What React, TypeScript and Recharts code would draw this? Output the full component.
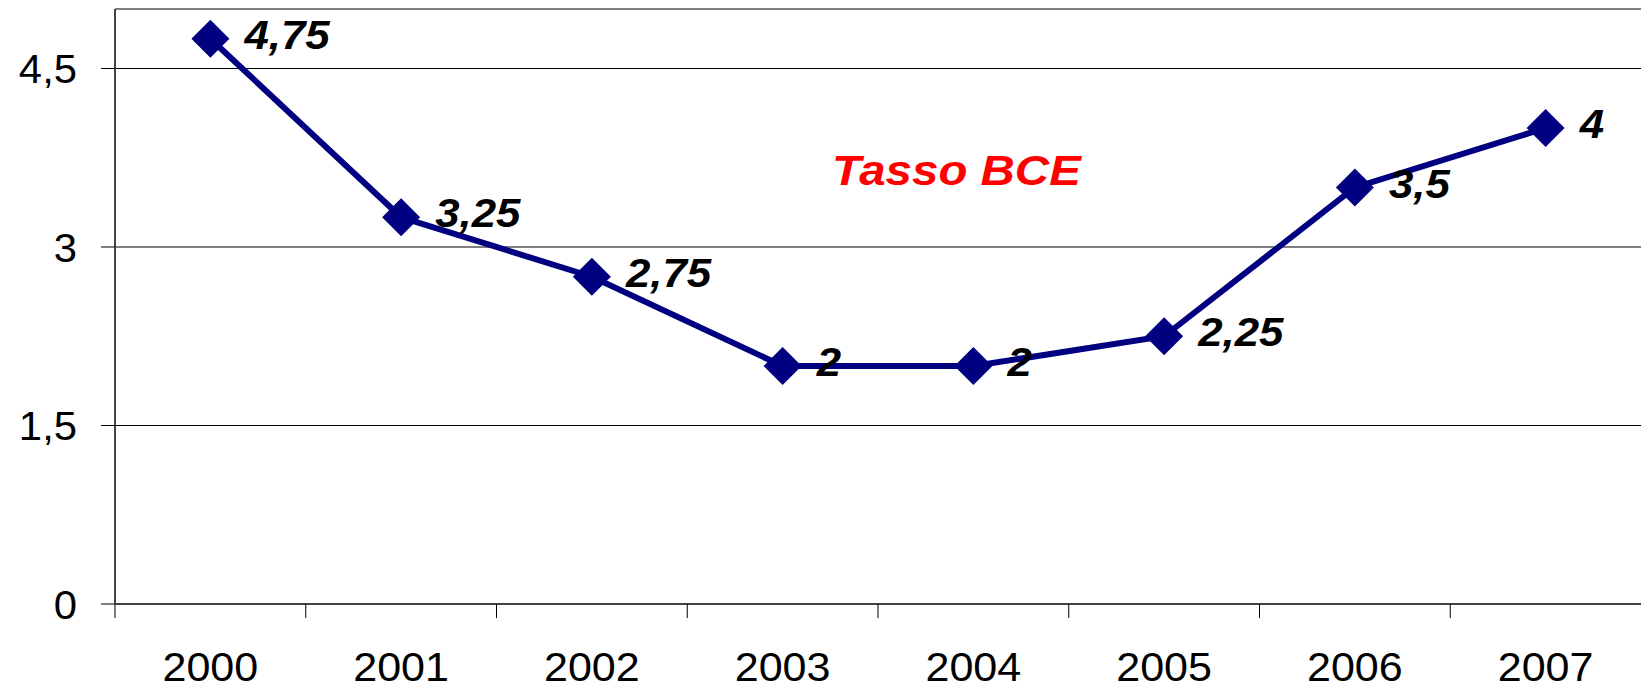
import React from "react";
import {
  LineChart,
  Line,
  XAxis,
  YAxis,
  CartesianGrid,
  ReferenceLine,
  LabelList,
} from "recharts";

const YEARS = ["2000", "2001", "2002", "2003", "2004", "2005", "2006", "2007"];
const RATES = [4.75, 3.25, 2.75, 2, 2, 2.25, 3.5, 4];
const Y_TICKS = [0, 1.5, 3, 4.5];
const Y_MAX = 5;
const TITLE = "Tasso BCE";

const FONT = "'Liberation Sans', Arial, Helvetica, sans-serif";
const NAVY = "#000080";
const X_TICK_SIZE = 14;
const X_TICK_MARGIN = 34;

const data = YEARS.map((year, i) => ({ year, rate: RATES[i] }));

// virgola decimale, come nell'originale
const fmt = (v: number) => String(v).replace(".", ",");

function Diamond(props: any) {
  const { cx, cy } = props;
  if (cx == null || cy == null) return null;
  const r = 19;
  return (
    <path
      d={`M${cx},${cy - r} L${cx + r},${cy} L${cx},${cy + r} L${cx - r},${cy} Z`}
      fill={NAVY}
    />
  );
}

// etichetta centrata nella banda, tacca sul bordo sinistro della banda
function YearTick(props: any) {
  const { x, y, payload } = props;
  const half = payload?.offset || 95.3;
  const axisY = y - X_TICK_SIZE - X_TICK_MARGIN;
  return (
    <g>
      <line
        x1={x - half}
        x2={x - half}
        y1={axisY}
        y2={axisY + X_TICK_SIZE}
        stroke="#000"
        strokeWidth={1}
      />
      <text
        transform={`translate(${x},${y}) scale(1.05,1)`}
        dy="0.71em"
        textAnchor="middle"
        fontSize={41}
        fontFamily={FONT}
        fill="#000"
      >
        {payload.value}
      </text>
    </g>
  );
}

function RateTick(props: any) {
  const { x, y, payload } = props;
  return (
    <text
      transform={`translate(${x},${y}) scale(1.02,1)`}
      dy="0.355em"
      textAnchor="end"
      fontSize={41}
      fontFamily={FONT}
      fill="#000"
    >
      {fmt(payload.value)}
    </text>
  );
}

function ValueLabel(props: any) {
  const { x, y, value } = props;
  return (
    <text
      transform={`translate(${x + 34},${y - 4}) scale(1.07,1)`}
      dominantBaseline="central"
      textAnchor="start"
      fontSize={41}
      fontWeight="bold"
      fontStyle="italic"
      fontFamily={FONT}
      fill="#000"
    >
      {fmt(value)}
    </text>
  );
}

export default function App() {
  return (
    <div
      style={{
        position: "absolute",
        left: 0,
        top: 0,
        width: 1641,
        height: 691,
        background: "#fff",
        fontFamily: FONT,
      }}
    >
      <LineChart
        width={1641}
        height={691}
        data={data}
        margin={{ top: 9, right: 0, bottom: 0, left: 0 }}
      >
        <CartesianGrid vertical={false} stroke="#000" strokeWidth={1} />
        <ReferenceLine y={Y_MAX} stroke="#808080" strokeWidth={2} />
        <XAxis
          dataKey="year"
          scale="band"
          height={87}
          tickLine={false}
          tickSize={X_TICK_SIZE}
          tickMargin={X_TICK_MARGIN}
          tick={<YearTick />}
          axisLine={{ stroke: "#444", strokeWidth: 2 }}
          interval={0}
        />
        <YAxis
          width={115}
          domain={[0, Y_MAX]}
          ticks={Y_TICKS}
          tickSize={14}
          tickMargin={24}
          tick={<RateTick />}
          tickLine={{ stroke: "#000" }}
          axisLine={{ stroke: "#444", strokeWidth: 2 }}
        />
        <Line
          type="linear"
          dataKey="rate"
          stroke={NAVY}
          strokeWidth={6}
          dot={<Diamond />}
          activeDot={false}
          isAnimationActive={false}
        >
          <LabelList dataKey="rate" content={<ValueLabel />} />
        </Line>
      </LineChart>
      <div
        style={{
          position: "absolute",
          left: 832,
          top: 150,
          fontSize: 42,
          lineHeight: "42px",
          fontWeight: "bold",
          fontStyle: "italic",
          color: "#ff0000",
          whiteSpace: "nowrap",
          transform: "scale(1.13,1)",
          transformOrigin: "0 0",
        }}
      >
        {TITLE}
      </div>
    </div>
  );
}
